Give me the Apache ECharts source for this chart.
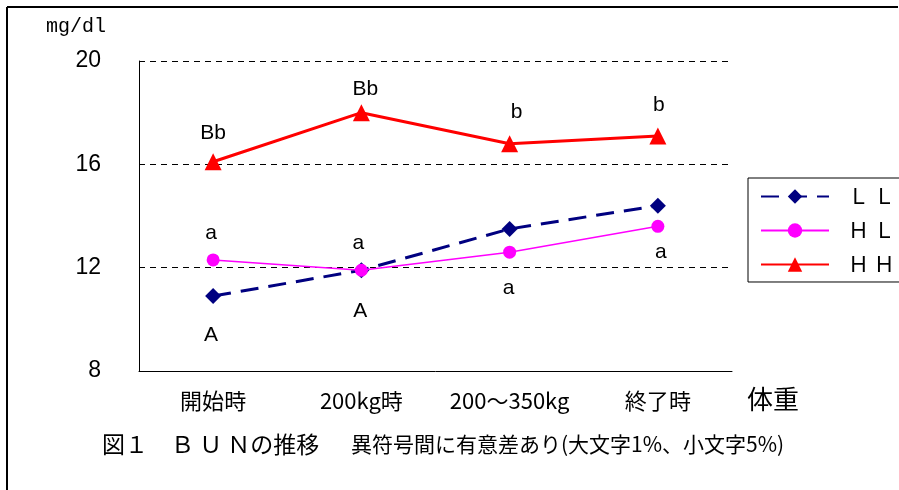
<!DOCTYPE html>
<html>
<head>
<meta charset="utf-8">
<script src="https://cdn.jsdelivr.net/npm/echarts@6/dist/echarts.min.js"></script>
<style>
  html, body { margin: 0; padding: 0; background: #fff; }
  #chart { width: 899px; height: 490px; }
</style>
</head>
<body>
<div id="chart"></div>
<script>
// BUN (mg/dl) over the fattening stages for the three groups
const categories = ['開始時', '200kg時', '200～350kg', '終了時'];
const seriesNames = ['Ｌ Ｌ', 'Ｈ Ｌ', 'Ｈ Ｈ'];
const llValues = [10.9, 11.9, 13.5, 14.4];
const hlValues = [12.3, 11.9, 12.6, 13.6];
const hhValues = [16.1, 18.0, 16.8, 17.1];
// significance letters shown next to each point
const llMarks = ['A', 'A', '', ''];
const hlMarks = ['a', 'a', 'a', 'a'];
const hhMarks = ['Bb', 'Bb', 'b', 'b'];
const yTicks = [8, 12, 16, 20];

const latin = '"Liberation Sans", Arial, sans-serif';
const cjk = '"Noto Sans CJK JP", "Liberation Sans", sans-serif';
const mono = '"Liberation Mono", "DejaVu Sans Mono", monospace';

// label offsets (px) relative to each point
const llOffsets = [[-2, 39], [-1, 41], [0, 0], [0, 0]];
const hlOffsets = [[-2, -27], [-3, -27], [-1, 36], [3, 26]];
const hhOffsets = [[0, -29], [4, -23], [7, -31], [1, -31]];

function withLabels(values, marks, offsets) {
  return values.map((v, i) => ({
    value: v,
    label: {
      show: marks[i] !== '',
      formatter: marks[i],
      position: 'inside',
      offset: offsets[i]
    }
  }));
}

const labelStyle = { color: '#000', fontSize: 21, fontFamily: latin };

const chart = echarts.init(document.getElementById('chart'), null, { renderer: 'canvas' });
chart.setOption({
  animation: false,
  backgroundColor: '#fff',
  grid: { left: 139, right: 167, top: 61, bottom: 119 },
  legend: {
    orient: 'vertical',
    left: 748,
    top: 178,
    padding: [8, 12, 7, 12],
    itemWidth: 68,
    itemHeight: 18,
    itemGap: 13,
    borderColor: '#000',
    borderWidth: 1,
    textStyle: { color: '#000', fontSize: 21, fontFamily: cjk, padding: [0, 0, 0, 14] },
    data: seriesNames
  },
  xAxis: {
    type: 'category',
    data: categories,
    boundaryGap: true,
    axisLine: { lineStyle: { color: '#000', width: 1 } },
    axisTick: { inside: true, length: 5, lineStyle: { color: '#000' } },
    axisLabel: { color: '#000', fontSize: 22, fontFamily: cjk, margin: 19, interval: 0, hideOverlap: false },
    splitLine: { show: false }
  },
  yAxis: {
    type: 'value',
    min: yTicks[0],
    max: yTicks[yTicks.length - 1],
    interval: 4,
    axisLine: { show: true, lineStyle: { color: '#000', width: 1 } },
    axisTick: { show: false },
    axisLabel: { color: '#000', fontSize: 23, fontFamily: latin, margin: 38 },
    splitLine: { show: true, lineStyle: { color: '#000', type: [6, 5], width: 1 } }
  },
  series: [
    {
      name: seriesNames[0],
      type: 'line',
      data: withLabels(llValues, llMarks, llOffsets),
      symbol: 'diamond',
      symbolSize: 16,
      lineStyle: { color: '#000080', width: 3, type: [18, 10] },
      itemStyle: { color: '#000080' },
      label: labelStyle,
      z: 3
    },
    {
      name: seriesNames[1],
      type: 'line',
      data: withLabels(hlValues, hlMarks, hlOffsets),
      symbol: 'circle',
      symbolSize: 13,
      lineStyle: { color: '#ff00ff', width: 1.5 },
      itemStyle: { color: '#ff00ff' },
      label: labelStyle,
      z: 4
    },
    {
      name: seriesNames[2],
      type: 'line',
      data: withLabels(hhValues, hhMarks, hhOffsets),
      symbol: 'triangle',
      symbolSize: 17,
      lineStyle: { color: '#ff0000', width: 3 },
      itemStyle: { color: '#ff0000' },
      label: labelStyle,
      z: 5
    }
  ],
  graphic: [
    // frame edges
    { type: 'line', shape: { x1: 7, y1: 7, x2: 898, y2: 7 }, style: { stroke: '#000', lineWidth: 2 } },
    { type: 'line', shape: { x1: 7, y1: 7, x2: 7, y2: 490 }, style: { stroke: '#000', lineWidth: 2 } },
    // unit
    { type: 'text', left: 46, top: 17, style: { text: 'mg/dl', fill: '#000', font: '20px ' + mono } },
    // x-axis name
    { type: 'text', left: 747, top: 386, style: { text: '体重', fill: '#000', font: '26px ' + cjk } },
    // caption
    { type: 'text', left: 102, top: 433, style: { text: '図１　Ｂ Ｕ Ｎの推移', fill: '#000', font: '23px ' + cjk } },
    { type: 'text', left: 351, top: 434, style: { text: '異符号間に有意差あり(大文字1%、小文字5%)', fill: '#000', font: '21px ' + cjk } }
  ]
});
</script>
</body>
</html>
